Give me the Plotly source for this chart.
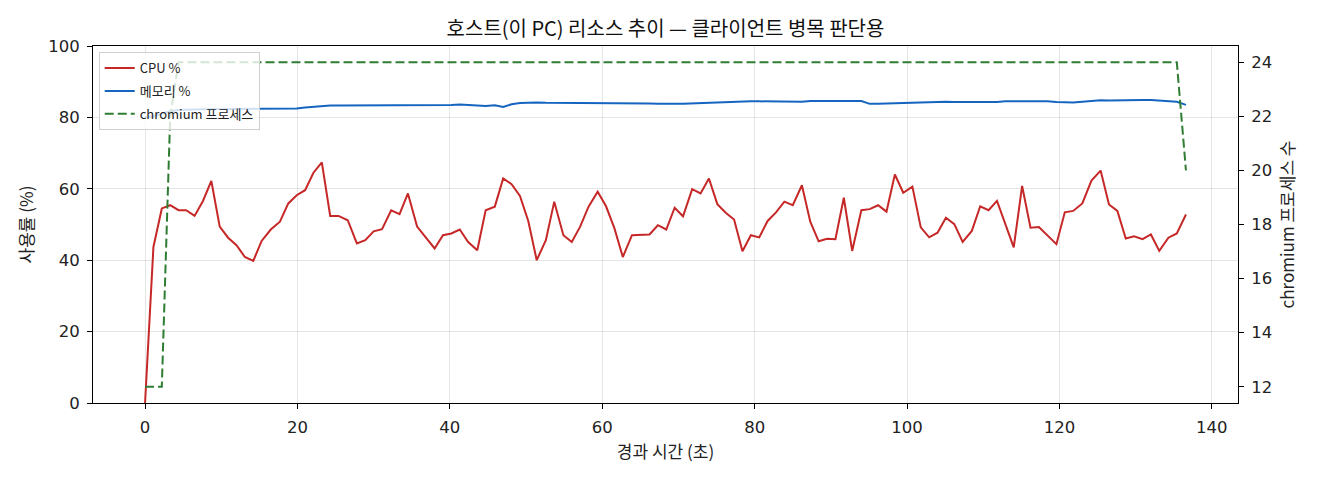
import plotly.graph_objects as go

# elapsed seconds for each sample
times = [0.0, 1.1, 2.2, 3.3, 4.4, 5.4, 6.5, 7.6, 8.7, 9.8, 10.9, 12.0, 13.1, 14.2, 15.3, 16.5,
         17.7, 18.8, 19.9, 21.0, 22.1, 23.2, 24.3, 25.4, 26.6, 27.8, 28.9, 30.0, 31.1, 32.3, 33.4,
         34.5, 35.7, 36.8, 38.0, 39.1, 40.2, 41.3, 42.4, 43.6, 44.7, 45.9, 47.0, 48.1, 49.2, 50.3,
         51.4, 52.6, 53.7, 54.9, 56.0, 57.1, 58.2, 59.4, 60.5, 61.6, 62.7, 63.9, 65.0, 66.2, 67.3,
         68.4, 69.5, 70.6, 71.8, 72.9, 74.0, 75.1, 76.2, 77.3, 78.4, 79.5, 80.6, 81.7, 82.8, 83.9,
         85.0, 86.2, 87.3, 88.4, 89.5, 90.6, 91.7, 92.8, 94.0, 95.1, 96.2, 97.3, 98.4, 99.5, 100.7,
         101.8, 102.9, 104.0, 105.1, 106.2, 107.3, 108.5, 109.6, 110.7, 111.8, 112.9, 114.0, 115.1,
         116.2, 117.3, 118.4, 119.6, 120.7, 121.8, 123.0, 124.2, 125.4, 126.5, 127.6, 128.7, 129.8,
         130.9, 132.0, 133.1, 134.3, 135.4, 136.6]

cpu = [0.0, 43.7, 54.5, 55.4, 54.0, 54.0, 52.4, 56.6, 62.2, 49.4, 46.3, 44.2, 40.9, 39.8, 45.4, 48.6,
       50.8, 55.9, 58.2, 59.6, 64.5, 67.4, 52.4, 52.4, 51.2, 44.7, 45.6, 48.1, 48.7, 54.0, 52.9,
       58.7, 49.4, 46.4, 43.3, 47.0, 47.5, 48.6, 45.1, 42.8, 54.0, 55.0, 62.9, 61.3, 58.0, 50.9,
       40.0, 45.6, 56.4, 47.0, 45.1, 49.4, 55.0, 59.2, 55.1, 48.9, 40.9, 47.0, 47.0, 47.2, 49.8,
       48.6, 54.7, 52.3, 59.9, 58.7, 62.9, 55.7, 53.3, 51.4, 42.5, 47.0, 46.4, 51.0, 53.4, 56.4,
       55.4, 61.0, 50.8, 45.3, 46.0, 45.9, 57.5, 42.6, 54.0, 54.3, 55.4, 53.6, 64.0, 58.9, 60.6,
       49.2, 46.4, 47.7, 51.9, 50.1, 45.1, 48.2, 55.1, 54.0, 56.6, 50.1, 43.6, 60.8, 49.1,
       49.3, 46.9, 44.5, 53.4, 53.8, 55.9, 62.3, 65.1, 55.6, 53.8, 46.1, 46.7,
       45.9, 47.2, 42.6, 46.3, 47.5, 52.8]

mem = [80.0, 80.3, 81.0, 81.7, 82.1, 82.2, 82.2, 82.3, 82.3, 82.3, 82.3, 82.4, 82.4, 82.4, 82.4, 82.4,
       82.4, 82.5, 82.5, 82.8, 83.0, 83.2, 83.3, 83.3, 83.3, 83.4, 83.4, 83.5, 83.4, 83.3, 83.3,
       83.4, 83.4, 83.4, 83.5, 83.4, 83.5, 83.6, 83.4, 83.3, 83.2, 83.4, 82.9, 83.7, 84.0, 84.2,
       84.2, 84.1, 84.1, 84.0, 84.1, 83.9, 84.1, 84.0, 84.0, 84.1, 83.9, 84.0, 84.0, 83.9, 83.8,
       83.7, 83.8, 83.8, 83.9, 84.1, 84.2, 84.3, 84.4, 84.5, 84.5, 84.5, 84.5, 84.5, 84.4, 84.3,
       84.3, 84.4, 84.6, 84.7, 84.6, 84.6, 84.7, 84.6, 84.6, 83.8, 83.8, 83.9, 83.9, 84.0, 84.1,
       84.2, 84.4, 84.4, 84.4, 84.3, 84.3, 84.4, 84.2, 84.4, 84.3, 84.5, 84.5, 84.5,
       84.6, 84.6, 84.5, 84.3, 84.2, 84.2, 84.4, 84.6, 84.8, 84.7, 84.8, 84.9, 84.9,
       84.9, 84.9, 84.8, 84.6, 84.4, 83.5]

# chromium process count only changes at a few samples
proc_times = [0.0, 1.1, 2.2, 3.3, 4.4, 135.4, 136.6]
proc_count = [12, 12, 12, 22, 24, 24, 20]

FONT = "Noto Sans CJK KR"
TICK_FONT = dict(family="DejaVu Sans", size=16.5, color="#222")

fig = go.Figure()
fig.add_trace(go.Scatter(x=times, y=cpu, mode="lines", name="CPU %", legendgroup="a",
                         line=dict(color="#c62828", width=2)))
fig.add_trace(go.Scatter(x=times, y=mem, mode="lines", name="메모리 %", legendgroup="b",
                         line=dict(color="#1565c0", width=2)))
fig.add_trace(go.Scatter(x=proc_times, y=proc_count, mode="lines", name="chromium 프로세스",
                         legendgroup="c", yaxis="y2",
                         line=dict(color="#2e7d32", width=2, dash="9px,4px")))

axis_style = dict(showline=True, linecolor="black", linewidth=1, ticks="outside", ticklen=5,
                  tickcolor="black", tickfont=TICK_FONT, zeroline=False, automargin=False,
                  ticklabelstandoff=4)

# the page body has an 8px margin, so the figure is sized to fit the window
fig.update_layout(
    width=1312, height=472,
    margin=dict(l=85, r=82, t=38, b=77),
    paper_bgcolor="white", plot_bgcolor="white",
    font=dict(family=FONT, color="#222"),
    title=dict(text="호스트(이 PC) 리소스 추이 — 클라이언트 병목 판단용", x=0.5, xref="paper",
               y=0.955, yanchor="middle", font=dict(size=20, color="#111")),
    xaxis=dict(range=[-6.83, 143.43], tickvals=[0, 20, 40, 60, 80, 100, 120, 140],
               title=dict(text="경과 시간 (초)", font=dict(size=17), standoff=10),
               showgrid=True, gridcolor="rgba(0,0,0,0.1)", mirror=True, **axis_style),
    yaxis=dict(range=[0, 100], tickvals=[0, 20, 40, 60, 80, 100],
               title=dict(text="사용률 (%)", font=dict(size=17), standoff=10),
               showgrid=True, gridcolor="rgba(0,0,0,0.1)", mirror=True, **axis_style),
    yaxis2=dict(range=[11.4, 24.6], tickvals=[12, 14, 16, 18, 20, 22, 24], overlaying="y",
                side="right", showgrid=False,
                title=dict(text="chromium 프로세스 수", font=dict(size=17), standoff=10),
                **axis_style),
    legend=dict(x=0.005, y=0.983, xanchor="left", yanchor="top",
                bgcolor="rgba(255,255,255,0.8)", bordercolor="#d0d0d0", borderwidth=1,
                font=dict(size=13), itemwidth=30, tracegroupgap=3),
    showlegend=True,
)

fig.write_html("out.html")
